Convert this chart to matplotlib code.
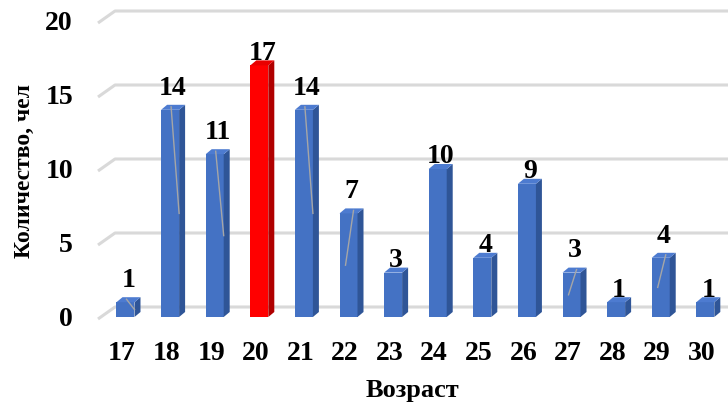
import matplotlib
matplotlib.use("Agg")
import matplotlib.pyplot as plt
from matplotlib.patches import Polygon

# Data
ages = [17, 18, 19, 20, 21, 22, 23, 24, 25, 26, 27, 28, 29, 30]
counts = [1, 14, 11, 17, 14, 7, 3, 10, 4, 9, 3, 1, 4, 1]
highlight_age = 20
y_ticks = [0, 5, 10, 15, 20]
x_title = "Возраст"
y_title = "Количество, чел"

# Labels that were pulled away from their bars get a leader line
leader_dirs = {17: 1, 18: 1, 19: 1, 21: 1, 22: -1, 27: -1, 29: -1}

# Style
W, H, DPI = 728, 407, 100
blue = ("#4472C4", "#2F5597", "#4D7BD0")   # front, side, top
red = ("#FF0000", "#B00000", "#E80000")
grid_color = "#D9D9D9"
serif = ["Liberation Serif", "DejaVu Serif"]

fig = plt.figure(figsize=(W / DPI, H / DPI), dpi=DPI)
ax = fig.add_axes([98 / W, 90 / H, 630 / W, 296 / H])
ax.set_xlim(-0.538, 13.587)
ax.set_ylim(0, 20)
for s in ax.spines.values():
    s.set_visible(False)

px_x = 1 / 44.6   # data units per pixel, x
px_y = 1 / 14.8   # data units per pixel, y

# Back wall gridlines with the short perspective segment on the left
back = 10 * px_y
x_front = -0.538
x_back = x_front + 17 * px_x
for v in y_ticks:
    ax.plot([x_front, x_back, 13.587], [v - 2 * px_y, v + back, v + back],
            color=grid_color, lw=2.2, solid_capstyle="butt", zorder=1,
            clip_on=False)

# 3D-looking columns
bw = 18 * px_x
dx = 6 * px_x
dy = 5 * px_y
shift = 3.5 * px_x
xs = [i + shift for i in range(len(ages))]
colors = [red if a == highlight_age else blue for a in ages]
ax.bar(xs, counts, width=bw, color=[c[0] for c in colors], zorder=3,
       linewidth=0)
for x, v, c in zip(xs, counts, colors):
    l, r = x - bw / 2, x + bw / 2
    ax.add_patch(Polygon([(r, 0), (r + dx, dy), (r + dx, v + dy), (r, v)],
                         closed=True, facecolor=c[1], lw=0, zorder=3))
    ax.add_patch(Polygon([(l, v), (l + dx, v + dy), (r + dx, v + dy), (r, v)],
                         closed=True, facecolor=c[2], lw=0, zorder=3))

# Value labels and leader lines
for a, x, v in zip(ages, xs, counts):
    lx = x + dx / 2
    moved = a in leader_dirs
    off = 11 if moved else 4
    ax.annotate(str(v), (lx, v), xytext=(0, off), textcoords="offset points",
                ha="center", va="baseline", fontsize=20, fontweight="bold",
                family=serif, zorder=5)
    if moved:
        d = leader_dirs[a]
        ax.plot([lx - d * 2 * px_x, lx + d * 6 * px_x], [v + 0.2, v / 2],
                color="#A6A6A6", lw=1, zorder=4)

ax.set_xticks(range(len(ages)))
ax.set_xticklabels([str(a) for a in ages])
ax.set_yticks(y_ticks)
ax.tick_params(axis="both", length=0, labelsize=20)
ax.tick_params(axis="x", pad=17)
ax.tick_params(axis="y", pad=18)
for lab in ax.get_xticklabels() + ax.get_yticklabels():
    lab.set_family(serif)
    lab.set_fontweight("bold")

fig.text(412 / W, (H - 397) / H, x_title, ha="center", va="baseline",
         fontsize=19, fontweight="bold", family=serif)
fig.text(24 / W, (H - 171) / H, y_title, ha="center", va="center",
         rotation=90, fontsize=17, fontweight="bold", family=serif)

fig.savefig("out.png", dpi=DPI)
